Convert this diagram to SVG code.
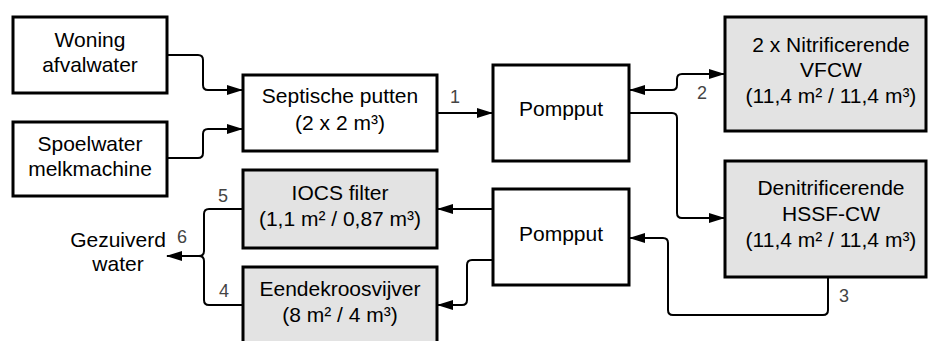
<svg xmlns="http://www.w3.org/2000/svg" width="928" height="341" viewBox="0 0 928 341">
  <defs>
    <marker id="arrow" markerUnits="userSpaceOnUse" markerWidth="16" markerHeight="10" refX="15" refY="5" orient="auto-start-reverse">
      <path d="M0,0 L16,5 L0,10 z" fill="#000"/>
    </marker>
    <style>
      .box { fill: #fff; stroke: #000; stroke-width: 3; }
      .grey { fill: #e3e3e3; }
      .t { font-family: "Liberation Sans", Arial, sans-serif; font-size: 21px; fill: #000; text-anchor: middle; }
      .lbl { font-family: "Liberation Sans", Arial, sans-serif; font-size: 18px; fill: #444; text-anchor: middle; }
      .edge { fill: none; stroke: #000; stroke-width: 2; }
    </style>
  </defs>
  <rect width="928" height="341" fill="#fff"/>

  <g id="connectors">
    <path class="edge" d="M167,55 H198 Q203,55 203,60 V85 Q203,90 208,90 H242" marker-end="url(#arrow)"/>
    <path class="edge" d="M167,158 H198 Q203,158 203,153 V134 Q203,129 208,129 H242" marker-end="url(#arrow)"/>
    <path class="edge" d="M437,113 H492" marker-end="url(#arrow)"/>
    <path class="edge" d="M630,90 H672 Q677,90 677,85 V79 Q677,74 682,74 H724" marker-start="url(#arrow)" marker-end="url(#arrow)"/>
    <path class="edge" d="M629,113 H672 Q677,113 677,118 V213 Q677,218 682,218 H724" marker-end="url(#arrow)"/>
    <path class="edge" d="M828,277 V310 Q828,315 823,315 H673 Q668,315 668,310 V243 Q668,238 663,238 H630" marker-end="url(#arrow)"/>
    <path class="edge" d="M493,209 H438" marker-end="url(#arrow)"/>
    <path class="edge" d="M493,260 H472 Q467,260 467,265 V300 Q467,305 462,305 H438" marker-end="url(#arrow)"/>
    <path class="edge" d="M243,209 H209 Q204,209 204,214 V251 Q204,256 199,256 H167" marker-end="url(#arrow)"/>
    <path class="edge" d="M243,305 H209 Q204,305 204,300 V261 Q204,256 199,256"/>
    <text class="lbl" x="455" y="103">1</text>
    <text class="lbl" x="702" y="99">2</text>
    <text class="lbl" x="844" y="302">3</text>
    <text class="lbl" x="224" y="297">4</text>
    <text class="lbl" x="223" y="202">5</text>
    <text class="lbl" x="182" y="243">6</text>
  </g>

  <g id="woning">
    <rect class="box" x="13" y="17" width="154" height="76"/>
    <text class="t" x="90" y="47">Woning</text>
    <text class="t" x="90" y="72">afvalwater</text>
  </g>
  <g id="spoelwater">
    <rect class="box" x="13" y="122" width="154" height="74"/>
    <text class="t" x="90" y="151">Spoelwater</text>
    <text class="t" x="90" y="176">melkmachine</text>
  </g>
  <g id="septische-putten">
    <rect class="box" x="243" y="75" width="194" height="76"/>
    <text class="t" x="340" y="103">Septische putten</text>
    <text class="t" x="340" y="130">(2 x 2 m³)</text>
  </g>
  <g id="pompput-1">
    <rect class="box" x="493" y="65" width="136" height="96"/>
    <text class="t" x="561" y="116">Pompput</text>
  </g>
  <g id="vfcw">
    <rect class="box grey" x="725" y="17" width="201" height="114"/>
    <text class="t" x="831" y="52">2 x Nitrificerende</text>
    <text class="t" x="831" y="77">VFCW</text>
    <text class="t" x="831" y="103">(11,4 m² / 11,4 m³)</text>
  </g>
  <g id="hssf-cw">
    <rect class="box grey" x="725" y="161" width="201" height="116"/>
    <text class="t" x="831" y="195">Denitrificerende</text>
    <text class="t" x="831" y="221">HSSF-CW</text>
    <text class="t" x="831" y="247">(11,4 m² / 11,4 m³)</text>
  </g>
  <g id="pompput-2">
    <rect class="box" x="493" y="189" width="136" height="96"/>
    <text class="t" x="561" y="241">Pompput</text>
  </g>
  <g id="iocs-filter">
    <rect class="box grey" x="243" y="170" width="194" height="78"/>
    <text class="t" x="340" y="200">IOCS filter</text>
    <text class="t" x="340" y="226">(1,1 m² / 0,87 m³)</text>
  </g>
  <g id="eendekroosvijver">
    <rect class="box grey" x="243" y="267" width="194" height="90"/>
    <text class="t" x="340" y="296">Eendekroosvijver</text>
    <text class="t" x="340" y="322">(8 m² / 4 m³)</text>
  </g>
  <g id="gezuiverd-water">
    <text class="t" x="118" y="247">Gezuiverd</text>
    <text class="t" x="118" y="271">water</text>
  </g>
</svg>
